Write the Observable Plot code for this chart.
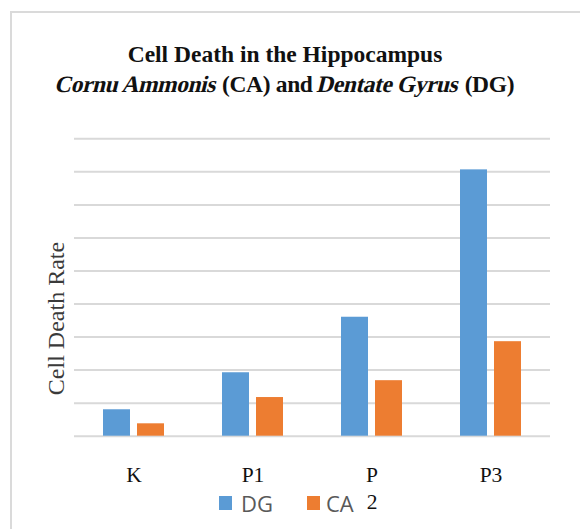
<!DOCTYPE html>
<html>
<head>
<meta charset="utf-8">
<script src="https://cdn.jsdelivr.net/npm/d3@7"></script>
<script src="https://cdn.jsdelivr.net/npm/@observablehq/plot@0.6"></script>
<style>
  body { margin: 0; background: #fff; }
  #wrap { position: relative; width: 580px; height: 529px; overflow: hidden; background: #fff; }
  #frame { position: absolute; left: 10px; top: 11px; right: -10px; bottom: -10px;
           border-top: 2px solid #dadada; border-left: 2px solid #dadada; }
  #title { position: absolute; left: 0; top: 39px; width: 570px; text-align: center;
           font-family: "Liberation Serif", "Times New Roman", serif; font-weight: bold;
           font-size: 23.5px; line-height: 30px; color: #111; }
  #title .sub { letter-spacing: -0.35px; }
  #title .it { display: inline-block; font-style: normal; font-weight: bold; transform: skewX(-14deg);
               letter-spacing: -0.45px; }
  #chart { position: absolute; left: 0; top: 100px; }
  #legend { position: absolute; left: 219px; top: 492px; display: flex; align-items: center;
            font-family: "Open Sans", sans-serif; font-size: 22px; line-height: 22px; color: #595959; }
  #legend .sw { width: 13px; height: 14px; display: inline-block; }
</style>
</head>
<body>
<div id="wrap">
  <div id="frame"></div>
  <div id="title">
    <div>Cell Death in the Hippocampus</div>
    <div class="sub"><span class="it">Cornu Ammonis</span> (CA) and <span class="it">Dentate Gyrus</span> (DG)</div>
  </div>
  <div id="chart"></div>
  <div id="legend"></div>
</div>
<script>
const categories = ["K", "P1", "P2", "P3"];
const tickLabels = ["K", "P1", "P\n2", "P3"];
const series = ["DG", "CA"];
const dgValues = [0.80, 1.92, 3.60, 8.06];
const caValues = [0.375, 1.17, 1.68, 2.86];
const colors = ["#5b9bd5", "#ed7d31"];
const yLabel = "Cell Death Rate";

const data = [];
categories.forEach((c, i) => {
  data.push({category: c, series: "DG", value: dgValues[i]});
  data.push({category: c, series: "CA", value: caValues[i]});
});
const labelData = categories.map((c, i) => ({category: c, label: tickLabels[i]}));

const chart = Plot.plot({
  width: 580,
  height: 420,
  marginTop: 38.3,
  marginBottom: 84.3,
  marginLeft: 74,
  marginRight: 30,
  style: {fontFamily: "'Liberation Serif', 'Times New Roman', serif", fontSize: "21.5px", background: "transparent", overflow: "visible", color: "#111"},
  fx: {domain: categories, paddingInner: 0, paddingOuter: 0, axis: null},
  x: {domain: series, paddingInner: 0.206, paddingOuter: 0.853, axis: null},
  y: {domain: [0, 9], axis: null},
  color: {domain: series, range: colors},
  marks: [
    Plot.gridY({ticks: 9, stroke: "#d9d9d9", strokeOpacity: 1, strokeWidth: 2}),
    Plot.barY(data, {fx: "category", x: "series", y: "value", fill: "series"}),
    Plot.text(labelData, {fx: "category", text: "label", frameAnchor: "bottom", lineAnchor: "top",
      dy: 27, lineHeight: 1.25, fontSize: 21.5, fill: "#111"}),
    Plot.text([yLabel], {fx: () => categories[0], text: d => d, frameAnchor: "left", rotate: -90,
      textAnchor: "middle", lineAnchor: "middle", dx: -18.4, dy: 31, fontSize: 24, fill: "#3a3a3a"})
  ]
});
document.getElementById("chart").appendChild(chart);

const legend = document.getElementById("legend");
series.forEach((s, i) => {
  const sw = document.createElement("span");
  sw.className = "sw";
  sw.style.background = colors[i];
  sw.style.marginLeft = i === 0 ? "0px" : "34px";
  sw.style.marginRight = i === 0 ? "9px" : "6px";
  const t = document.createElement("span");
  t.textContent = s;
  legend.appendChild(sw);
  legend.appendChild(t);
});
</script>
</body>
</html>
